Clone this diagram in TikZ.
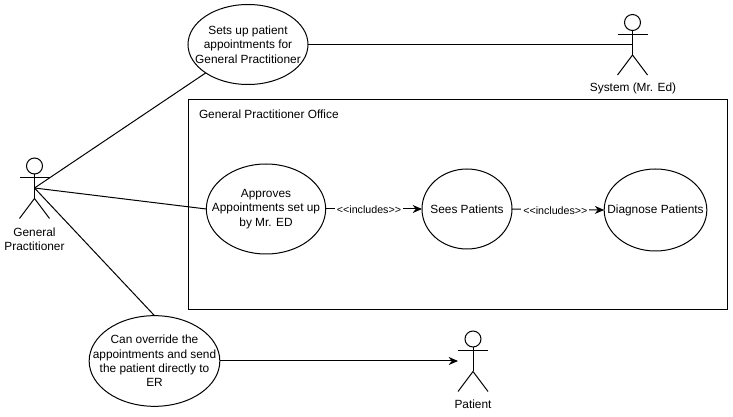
\documentclass[tikz,border=0pt]{standalone}
\usepackage{fontspec}
\setmainfont{Liberation Sans}
\usetikzlibrary{arrows.meta,shapes,calc,positioning}
\tikzstyle{edge}   =[line width=0.75pt, black]
\tikzstyle{usecase}=[ellipse, draw, line width=0.75pt, inner sep=0pt, outer sep=0pt]
\tikzstyle{label}  =[inner sep=0pt, align=center, font=\fontsize{8.9}{10.7}\selectfont]
\tikzstyle{incl}   =[edge, -{Stealth[length=7pt,width=6pt]}]
\tikzstyle{tag}    =[fill=white, inner sep=1.5pt, yshift=-0.75pt, font=\fontsize{8}{9}\selectfont]
\tikzstyle{head}   =[circle, draw, line width=0.75pt, minimum size=12pt, inner sep=0pt, outer sep=0pt]

\begin{document}
\begin{tikzpicture}[x=0.75pt, y=-0.75pt, edge]
        \useasboundingbox (0,0) rectangle (733,417);

        % actors
        \foreach \n/\x/\y in {gp/34.5/166, sys/632.5/22.5, pat/473/339}{
            \node[head] (\n-head) at (\x,\y) {};
            \coordinate (\n-hip) at (\x,\y+32.5);
            \coordinate (\n) at (\x,\y+22);
            \coordinate (\n-w) at (\x-15,\y+22);
            \coordinate (\n-l) at (\x-15,\y+12);
            \coordinate (\n-r) at (\x+15,\y+12);
            \coordinate (\n-lf) at (\x-15,\y+52.5);
            \coordinate (\n-rf) at (\x+15,\y+52.5);
            \draw (\n-head) -- (\n-hip);
            \draw (\n-l) -- (\n-r);
            \draw (\n-lf) -- (\n-hip) -- (\n-rf);
        }
        \node[label] (gplabel) at (34.5,239) {General\\Practitioner};
        \node[label] (syslabel) at (633,88) {System (Mr. Ed)};
        \node[label] (patlabel) at (473,404) {Patient};

        \node[draw, line width=0.75pt, minimum width=539*0.75pt, minimum height=210*0.75pt,
              anchor=north west, outer sep=0pt] (office) at (188.5,99.5) {};
        \node[label, anchor=west] (officelabel) at (198.5,114.5) {General Practitioner Office};

        \node[usecase, minimum width=90pt, minimum height=60pt] (setup) at (248,44.5) {};
        \node[label] (setuptext) at (setup) {Sets up patient\\appointments for\\General Practitioner};
        \node[usecase, minimum width=89.5pt, minimum height=67.5pt] (approve) at (266,209) {};
        \node[label] (approvetext) at (approve) {Approves\\Appointments set up\\by Mr. ED};
        \node[usecase, minimum width=67.5pt, minimum height=60pt] (sees) at (467,209) {};
        \node[label] (seestext) at (sees) {Sees Patients};
        \node[usecase, minimum width=77pt, minimum height=61.5pt] (diag) at (655.5,210) {};
        \node[label] (diagtext) at (diag) {Diagnose Patients};
        \node[usecase, minimum width=98pt, minimum height=68pt] (override) at (154.5,361) {};
        \node[label] (overridetext) at (override) {Can override the\\appointments and send\\the patient directly to\\ER};

        \draw (gp) -- (setup);
        \draw (gp) -- (approve.west);
        \draw (gp) -- (override.north);
        \draw (setup.east) -- (sys);
        \draw[incl] (override.east) -- (pat-w);
        \draw[incl] (approve.east) -- node[tag, pos=0.45] (incl1) {<{}<includes>{}>} (sees.west);
        \draw[incl] (sees.east) -- node[tag, pos=0.47] (incl2) {<{}<includes>{}>} (diag.west);
\end{tikzpicture}
\end{document}
